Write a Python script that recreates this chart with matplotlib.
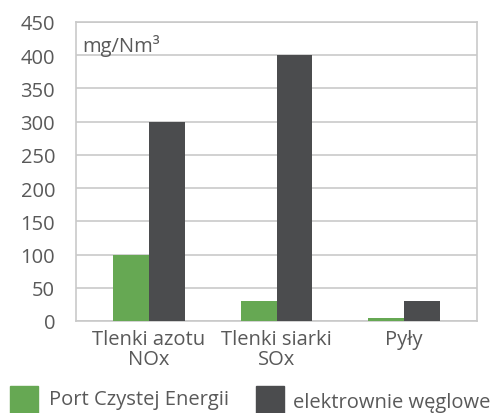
import matplotlib.pyplot as plt
import numpy as np
from matplotlib.patches import Rectangle

# ===== DATA =====
categories = ["Tlenki azotu\nNOx", "Tlenki siarki\nSOx", "Pyły"]
port_values = [100, 30, 4]
coal_values = [300, 400, 30]
series_names = ["Port Czystej Energii", "elektrownie węglowe"]
yticks = [0, 50, 100, 150, 200, 250, 300, 350, 400, 450]

GREEN = "#66a853"
DARK = "#4b4c4e"
TEXT = "#595959"
GRID = "#c9c9c9"
FS = 14.5

plt.rcParams["font.family"] = ["Open Sans", "DejaVu Sans"]

fig = plt.figure(figsize=(4.93, 4.14), dpi=100)
ax = fig.add_axes([76 / 493, 1 - 322 / 414, 401 / 493, 299 / 414])

x = np.arange(len(categories))
w = 0.28
ax.bar(x - w / 2, port_values, w, color=GREEN, zorder=3)
ax.bar(x + w / 2, coal_values, w, color=DARK, zorder=3)

ax.set_xlim(-0.573, 2.573)
ax.set_ylim(0, 450)
ax.set_yticks(yticks)
ax.yaxis.grid(True, color=GRID, linewidth=1.2, zorder=0)
ax.set_xticks(x)
ax.set_xticklabels(categories, fontsize=FS, color=TEXT, linespacing=0.95)
ax.tick_params(axis="y", length=0, pad=15, labelsize=FS, labelcolor=TEXT)
ax.tick_params(axis="x", length=0, pad=6)
for s in ax.spines.values():
    s.set_color(GRID)
    s.set_linewidth(1.2)

ax.text(0.015, 0.96, "mg/Nm³", transform=ax.transAxes, fontsize=FS,
        color=TEXT, va="top", ha="left")

# legend drawn by hand in figure coords
fig.patches.append(Rectangle((10 / 493, 1 - 414 / 414), 28 / 493, 27 / 414,
                             transform=fig.transFigure, color=GREEN))
fig.text(49 / 493, 1 - 400 / 414, series_names[0], fontsize=FS, color=TEXT, va="center")
fig.patches.append(Rectangle((256 / 493, 1 - 414 / 414), 28 / 493, 27 / 414,
                             transform=fig.transFigure, color=DARK))
fig.text(293 / 493, 1 - 403 / 414, series_names[1], fontsize=FS, color=TEXT, va="center")

fig.savefig("out.png", dpi=100)
